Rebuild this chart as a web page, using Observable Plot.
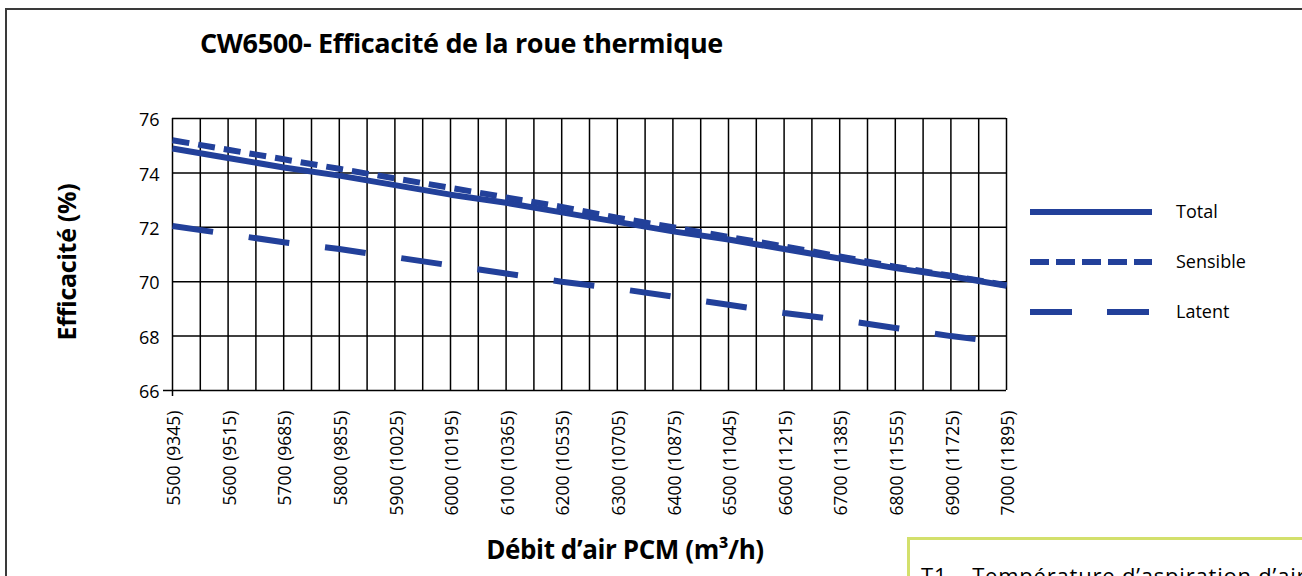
<!DOCTYPE html>
<html>
<head>
<meta charset="utf-8">
<script src="https://cdn.jsdelivr.net/npm/d3@7"></script>
<script src="https://cdn.jsdelivr.net/npm/@observablehq/plot@0.6"></script>
<style>
  html, body { margin: 0; padding: 0; background: #fff; }
  body { width: 1302px; height: 576px; overflow: hidden; position: relative; font-family: "Open Sans", sans-serif; }
  #frame { position: absolute; left: 5px; top: 8px; width: 1400px; height: 700px; border: 2px solid #3a3a3a; box-sizing: border-box; }
  #chart { position: absolute; left: 0; top: 0; }
  .title { position: absolute; left: 200px; top: 24px; font-weight: 700; font-size: 27px; color: #000; white-space: nowrap; letter-spacing: -0.35px; }
  .ylab { position: absolute; left: 66px; top: 262px; transform: translate(-50%, -50%) rotate(-90deg); font-weight: 700; font-size: 25px; white-space: nowrap; letter-spacing: -0.3px; }
  .xlab { position: absolute; left: 625px; top: 549px; transform: translate(-50%, -50%); font-weight: 700; font-size: 26px; white-space: nowrap; letter-spacing: -0.4px; }
  #legend { position: absolute; left: 1020px; top: 190px; }
  #note { position: absolute; left: 907px; top: 537px; width: 600px; height: 100px; border: 3px solid #d3e06c; box-sizing: border-box; overflow: hidden; }
  #note span { position: absolute; left: 11px; top: 20px; font-size: 22px; letter-spacing: 0.8px; white-space: nowrap; color: #000; }
</style>
</head>
<body>
<div id="frame"></div>
<div id="chart"></div>
<div class="title">CW6500- Efficacité de la roue thermique</div>
<div class="ylab">Efficacité (%)</div>
<div class="xlab">Débit d’air PCM (m³/h)</div>
<div id="legend"></div>
<div id="note"><span>T1 – Température d’aspiration d’air extérieur</span></div>
<script>
// Data
const flows = [5500, 5600, 5700, 5800, 5900, 6000, 6100, 6200, 6300, 6400, 6500, 6600, 6700, 6800, 6900, 7000];
const tickLabels = ["5500 (9345)", "5600 (9515)", "5700 (9685)", "5800 (9855)", "5900 (10025)", "6000 (10195)",
  "6100 (10365)", "6200 (10535)", "6300 (10705)", "6400 (10875)", "6500 (11045)", "6600 (11215)",
  "6700 (11385)", "6800 (11555)", "6900 (11725)", "7000 (11895)"];
const total    = [74.9, 74.55, 74.2, 73.9, 73.55, 73.2, 72.9, 72.55, 72.2, 71.85, 71.55, 71.2, 70.85, 70.5, 70.2, 69.85];
const sensible = [75.2, 74.85, 74.5, 74.15, 73.8, 73.45, 73.1, 72.75, 72.35, 72.0, 71.65, 71.3, 70.93, 70.55, 70.22, 69.87];
const latent   = [72.05, 71.75, 71.45, 71.2, 70.9, 70.6, 70.3, 70.0, 69.75, 69.45, 69.15, 68.85, 68.6, 68.3, 68.0, 67.75];
const seriesNames = ["Total", "Sensible", "Latent"];
const yTicks = [66, 68, 70, 72, 74, 76];
const xGrid = d3.range(5500, 7001, 50);

const color = "#22409a";
const dashes = {Total: null, Sensible: "17,9", Latent: "41,36"};
const values = {Total: total, Sensible: sensible, Latent: latent};
const rows = seriesNames.flatMap(s => flows.map((f, i) => ({series: s, flow: f, value: values[s][i]})));
const labelOf = new Map(flows.map((f, i) => [f, tickLabels[i]]));

const chart = Plot.plot({
  width: 1302,
  height: 576,
  marginLeft: 172,
  marginRight: 296,
  marginTop: 118,
  marginBottom: 186,
  style: {fontFamily: "Open Sans, sans-serif", background: "transparent", overflow: "visible"},
  x: {domain: [5500, 7000]},
  y: {domain: [66, 76]},
  marks: [
    Plot.ruleX(xGrid, {stroke: "#000", strokeWidth: 1.5}),
    Plot.ruleY(yTicks, {stroke: "#000", strokeWidth: 1.5}),
    ...seriesNames.map(s => Plot.line(rows.filter(r => r.series === s), {
      x: "flow", y: "value", stroke: color, strokeWidth: 6,
      strokeDasharray: dashes[s], strokeLinecap: "butt", strokeLinejoin: "miter"
    })),
    Plot.axisY({ticks: yTicks, tickSize: 0, tickPadding: 13, fontSize: 18, label: null, fill: "#000", dy: 2}),
    Plot.axisY({ticks: [66], tickSize: 9, tickFormat: () => "", label: null, stroke: "#000", strokeWidth: 1.5}),
    Plot.axisX({ticks: [5500], tickSize: 6, tickFormat: () => "", label: null, stroke: "#000", strokeWidth: 1.5}),
    Plot.axisX({ticks: flows, tickSize: 0, tickPadding: 20, tickRotate: -90, fontSize: 17.5,
      tickFormat: d => labelOf.get(d), label: null, fill: "#000", dx: 2})
  ]
});
document.getElementById("chart").appendChild(chart);

// Legend
const ns = "http://www.w3.org/2000/svg";
const lg = document.createElementNS(ns, "svg");
lg.setAttribute("width", 270);
lg.setAttribute("height", 150);
seriesNames.forEach((s, i) => {
  const y = 22 + i * 50;
  const ln = document.createElementNS(ns, "line");
  ln.setAttribute("x1", 10); ln.setAttribute("x2", 132);
  ln.setAttribute("y1", y); ln.setAttribute("y2", y);
  ln.setAttribute("stroke", color); ln.setAttribute("stroke-width", 6);
  if (dashes[s]) ln.setAttribute("stroke-dasharray", s === "Sensible" ? "19,7" : "42,35");
  lg.appendChild(ln);
  const t = document.createElementNS(ns, "text");
  t.setAttribute("x", 156); t.setAttribute("y", y);
  t.setAttribute("dy", "0.35em");
  t.setAttribute("font-size", 18);
  t.setAttribute("font-family", "Open Sans, sans-serif");
  t.textContent = s;
  lg.appendChild(t);
});
document.getElementById("legend").appendChild(lg);
</script>
</body>
</html>
